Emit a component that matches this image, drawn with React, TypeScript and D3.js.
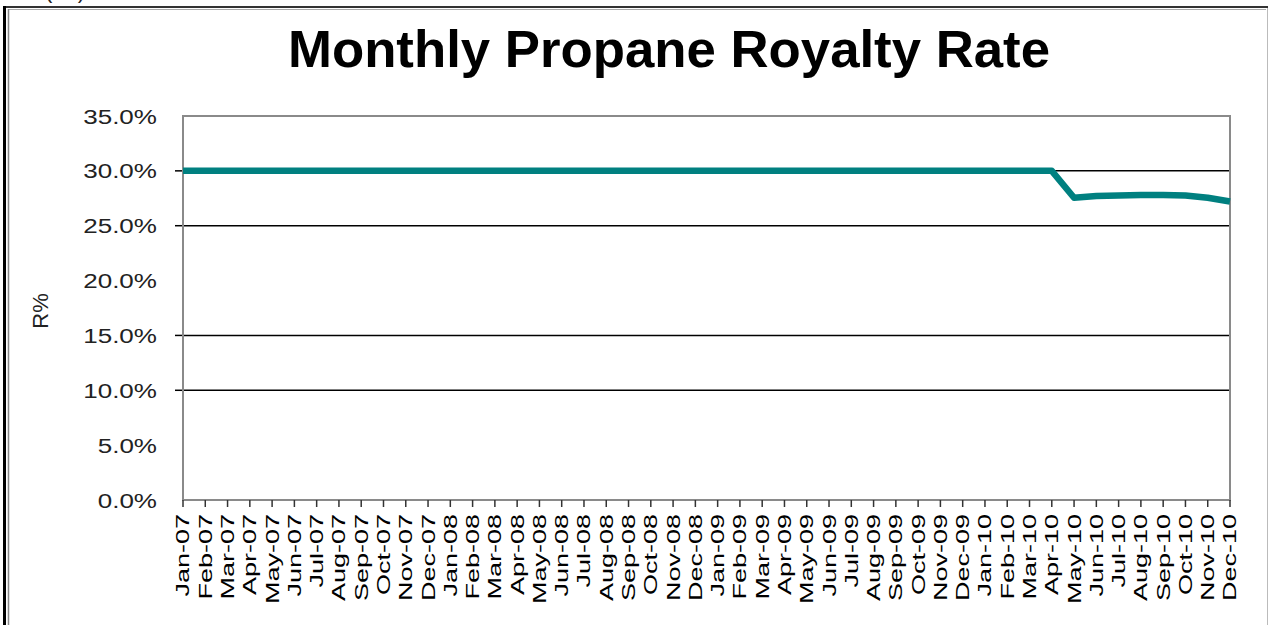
import React from "react";
import * as d3 from "d3";

// month labels along the category axis
const months = [
  "Jan-07", "Feb-07", "Mar-07", "Apr-07", "May-07", "Jun-07", "Jul-07", "Aug-07", "Sep-07", "Oct-07", "Nov-07", "Dec-07",
  "Jan-08", "Feb-08", "Mar-08", "Apr-08", "May-08", "Jun-08", "Jul-08", "Aug-08", "Sep-08", "Oct-08", "Nov-08", "Dec-08",
  "Jan-09", "Feb-09", "Mar-09", "Apr-09", "May-09", "Jun-09", "Jul-09", "Aug-09", "Sep-09", "Oct-09", "Nov-09", "Dec-09",
  "Jan-10", "Feb-10", "Mar-10", "Apr-10", "May-10", "Jun-10", "Jul-10", "Aug-10", "Sep-10", "Oct-10", "Nov-10", "Dec-10",
];

// royalty rate R% per month
const royaltyRate = [
  0.3, 0.3, 0.3, 0.3, 0.3, 0.3, 0.3, 0.3, 0.3, 0.3, 0.3, 0.3,
  0.3, 0.3, 0.3, 0.3, 0.3, 0.3, 0.3, 0.3, 0.3, 0.3, 0.3, 0.3,
  0.3, 0.3, 0.3, 0.3, 0.3, 0.3, 0.3, 0.3, 0.3, 0.3, 0.3, 0.3,
  0.3, 0.3, 0.3, 0.3, 0.2755, 0.277, 0.2775, 0.278, 0.278, 0.2775, 0.2755, 0.272,
];

const yTicks = [0, 0.05, 0.1, 0.15, 0.2, 0.25, 0.3, 0.35];
// only these gridlines show in the original
const gridValues = [0.1, 0.15, 0.25, 0.3];

const W = 1270;
const H = 625;
const left = 183;
const right = 1230;
const top = 116;
const bottom = 500;

export default function App() {
  const x = d3.scalePoint<string>().domain(months).range([left, right]);
  const y = d3.scaleLinear().domain([0, 0.35]).range([bottom, top]);
  const fmt = d3.format(".1%");

  const line = d3
    .line<number>()
    .x((_, i) => x(months[i]) as number)
    .y((d) => y(d));

  return (
    <svg
      width={W}
      height={H}
      style={{ position: "absolute", left: 0, top: 0, background: "#fff" }}
      fontFamily="'Liberation Sans', Arial, sans-serif"
    >
      {/* cut-off caption above the frame */}
      <text x={45} y={-2} fontSize={22} textLength={40} fill="#222">
        (b)
      </text>

      {/* outer frame */}
      <line x1={3} x2={1268} y1={7} y2={7} stroke="#333" strokeWidth={2} />
      <line x1={9} x2={1266} y1={9.5} y2={9.5} stroke="#aaa" strokeWidth={1} />
      <line x1={4.5} x2={4.5} y1={6} y2={H} stroke="#000" strokeWidth={3} />
      <line x1={8.5} x2={8.5} y1={9} y2={H} stroke="#888" strokeWidth={1.5} />
      <line x1={1267.5} x2={1267.5} y1={8} y2={H} stroke="#bbb" strokeWidth={1} />

      <text
        x={669}
        y={67}
        textAnchor="middle"
        fontSize={52}
        fontWeight="bold"
        textLength={762}
        lengthAdjust="spacingAndGlyphs"
      >
        Monthly Propane Royalty Rate
      </text>

      {/* gridlines */}
      {gridValues.map((v) => (
        <g key={v}>
          <line x1={left} x2={right} y1={y(v)} y2={y(v)} stroke="#000" strokeWidth={1.5} />
          <line x1={left - 8} x2={left} y1={y(v)} y2={y(v)} stroke="#000" strokeWidth={1.5} />
        </g>
      ))}

      {/* plot border */}
      <rect
        x={left}
        y={top}
        width={right - left}
        height={bottom - top}
        fill="none"
        stroke="#8a8a8a"
        strokeWidth={2}
      />

      {/* y tick labels */}
      {yTicks.map((v) => (
        <g key={v} transform={`translate(157,${y(v)}) scale(1.24,1)`}>
          <text textAnchor="end" dy="0.36em" fontSize={21} fill="#222">
            {fmt(v)}
          </text>
        </g>
      ))}

      <text
        transform="translate(48,311) rotate(-90)"
        textAnchor="middle"
        fontSize={22}
        fill="#222"
      >
        R%
      </text>

      {/* x ticks and labels */}
      {months.map((m) => {
        const px = x(m) as number;
        return (
          <g key={m}>
            <line x1={px} x2={px} y1={bottom} y2={bottom + 7} stroke="#333" strokeWidth={1.5} />
            <g transform={`translate(${px},514) rotate(-90) scale(1.5,1)`}>
              <text textAnchor="end" dy="0.36em" fontSize={18} fill="#000">
                {m}
              </text>
            </g>
          </g>
        );
      })}

      {/* series */}
      <path
        d={line(royaltyRate) ?? ""}
        fill="none"
        stroke="#008080"
        strokeWidth={6.5}
        strokeLinejoin="round"
      />
    </svg>
  );
}
